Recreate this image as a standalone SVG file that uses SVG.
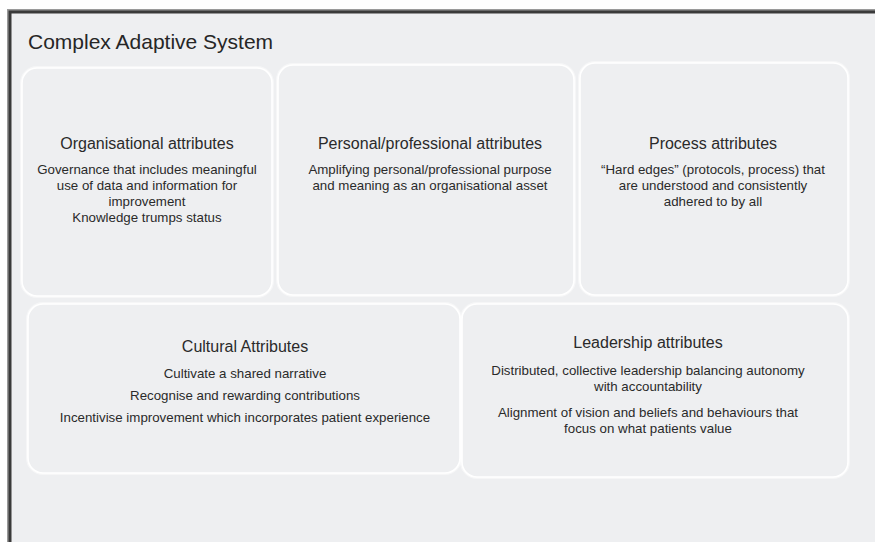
<svg xmlns="http://www.w3.org/2000/svg" width="875" height="542" viewBox="0 0 875 542">
  <style>
    .frame-halo { fill: none; stroke: #9a9a9a; stroke-width: 6; }
    .frame { fill: #eeeff1; stroke: #3a3a3a; stroke-width: 3; }
    .box-glow { fill: none; stroke: #ffffff; stroke-width: 4; stroke-opacity: 0.45; }
    .box { fill: #eeeff1; stroke: #ffffff; stroke-width: 1.6; }
    .title { font-family: "Liberation Sans", Arial, sans-serif; font-size: 21px; fill: #262626; }
    .head { font-family: "Liberation Sans", Arial, sans-serif; font-size: 16px; fill: #2a2a2a; text-anchor: middle; }
    .body { font-family: "Liberation Sans", Arial, sans-serif; font-size: 13.3px; fill: #2a2a2a; text-anchor: middle; }
  </style>
  <rect x="0" y="0" width="875" height="542" fill="#ffffff"/>

  <!-- outer system frame, running off the right and bottom edges -->
  <g id="system">
    <rect class="frame-halo" x="10" y="12" width="900" height="600"/>
    <rect class="frame" x="10" y="12" width="900" height="600"/>
    <text class="title" x="28" y="49">Complex Adaptive System</text>
  </g>

  <g id="organisational">
    <rect class="box-glow" x="22" y="68" width="250" height="228" rx="15"/>
    <rect class="box" x="22" y="68" width="250" height="228" rx="15"/>
    <text class="head" x="147" y="149">Organisational attributes</text>
    <text class="body" x="147" y="174">Governance that includes meaningful</text>
    <text class="body" x="147" y="190">use of data and information for</text>
    <text class="body" x="147" y="206">improvement</text>
    <text class="body" x="147" y="222">Knowledge trumps status</text>
  </g>

  <g id="personal">
    <rect class="box-glow" x="278" y="65" width="296" height="230" rx="15"/>
    <rect class="box" x="278" y="65" width="296" height="230" rx="15"/>
    <text class="head" x="430" y="149">Personal/professional attributes</text>
    <text class="body" x="430" y="174">Amplifying personal/professional purpose</text>
    <text class="body" x="430" y="190">and meaning as an organisational asset</text>
  </g>

  <g id="process">
    <rect class="box-glow" x="580" y="63" width="268" height="232" rx="15"/>
    <rect class="box" x="580" y="63" width="268" height="232" rx="15"/>
    <text class="head" x="713" y="149">Process attributes</text>
    <text class="body" x="713" y="174">“Hard edges” (protocols, process) that</text>
    <text class="body" x="713" y="190">are understood and consistently</text>
    <text class="body" x="713" y="206">adhered to by all</text>
  </g>

  <g id="cultural">
    <rect class="box-glow" x="28" y="304" width="432" height="169" rx="15"/>
    <rect class="box" x="28" y="304" width="432" height="169" rx="15"/>
    <text class="head" x="245" y="352">Cultural Attributes</text>
    <text class="body" x="245" y="378">Cultivate a shared narrative</text>
    <text class="body" x="245" y="400">Recognise and rewarding contributions</text>
    <text class="body" x="245" y="422">Incentivise improvement which incorporates patient experience</text>
  </g>

  <g id="leadership">
    <rect class="box-glow" x="462" y="304" width="386" height="173" rx="15"/>
    <rect class="box" x="462" y="304" width="386" height="173" rx="15"/>
    <text class="head" x="648" y="348">Leadership attributes</text>
    <text class="body" x="648" y="375">Distributed, collective leadership balancing autonomy</text>
    <text class="body" x="648" y="391">with accountability</text>
    <text class="body" x="648" y="417">Alignment of vision and beliefs and behaviours that</text>
    <text class="body" x="648" y="433">focus on what patients value</text>
  </g>

  <!-- no connectors in this diagram -->
  <g id="connectors"/>
</svg>
